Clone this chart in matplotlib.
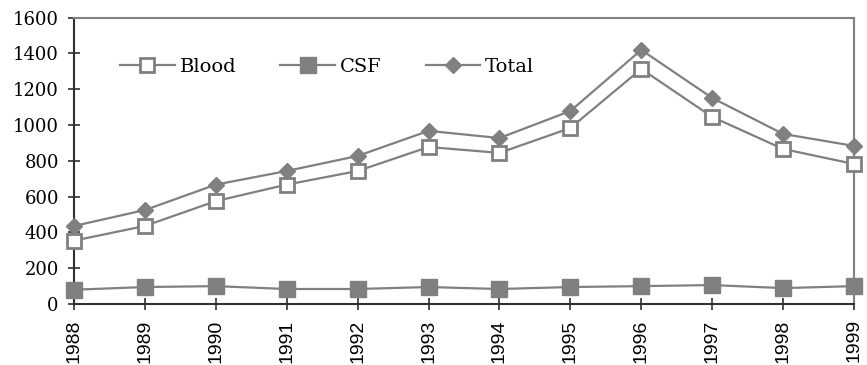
import matplotlib.pyplot as plt

# data
years = ['1988', '1989', '1990', '1991', '1992', '1993',
         '1994', '1995', '1996', '1997', '1998', '1999']
blood = [354, 436, 575, 667, 743, 877, 844, 983, 1313, 1045, 866, 782]
csf = [80, 95, 100, 84, 84, 95, 84, 95, 100, 106, 89, 100]
total = [436, 525, 667, 743, 827, 967, 927, 1078, 1419, 1151, 950, 883]

gray = '#808080'
x = list(range(len(years)))

fig = plt.figure(figsize=(8.67, 3.65), dpi=100)
ax = fig.add_axes([0.0854, 0.167, 0.8996, 0.785])

ax.plot(x, blood, '-s', color=gray, lw=1.6, ms=10, mfc='white', mec=gray,
        mew=2, label='Blood', clip_on=False, zorder=3)
ax.plot(x, csf, '-s', color=gray, lw=1.6, ms=11, mfc=gray, mec=gray,
        label='CSF', clip_on=False, zorder=3)
ax.plot(x, total, '-D', color=gray, lw=1.6, ms=8, mfc=gray, mec=gray,
        label='Total', clip_on=False, zorder=3)

ax.set_xlim(0, len(years) - 1)
ax.set_ylim(0, 1600)
ax.set_yticks(range(0, 1601, 200))
ax.set_xticks(x)
ax.set_xticklabels(years, rotation=90, fontsize=14, family='Liberation Sans')
for lab in ax.get_yticklabels():
    lab.set_family('DejaVu Serif')
    lab.set_fontsize(13)

ax.tick_params(direction='inout', length=9, width=1.2, color='#303030', pad=6.5)

ax.spines['left'].set_color('#303030')
ax.spines['bottom'].set_color('#303030')
ax.spines['left'].set_linewidth(1.5)
ax.spines['bottom'].set_linewidth(1.5)
ax.spines['top'].set_color(gray)
ax.spines['right'].set_color(gray)
ax.spines['top'].set_linewidth(1.5)
ax.spines['right'].set_linewidth(1.5)

ax.legend(loc='center left', bbox_to_anchor=(0.059, 0.827), ncol=3, frameon=False,
          prop={'family': 'DejaVu Serif', 'size': 14}, handlelength=2.8,
          handletextpad=0.26, columnspacing=2.27, borderaxespad=0, borderpad=0)

fig.savefig('out.png', dpi=100)
